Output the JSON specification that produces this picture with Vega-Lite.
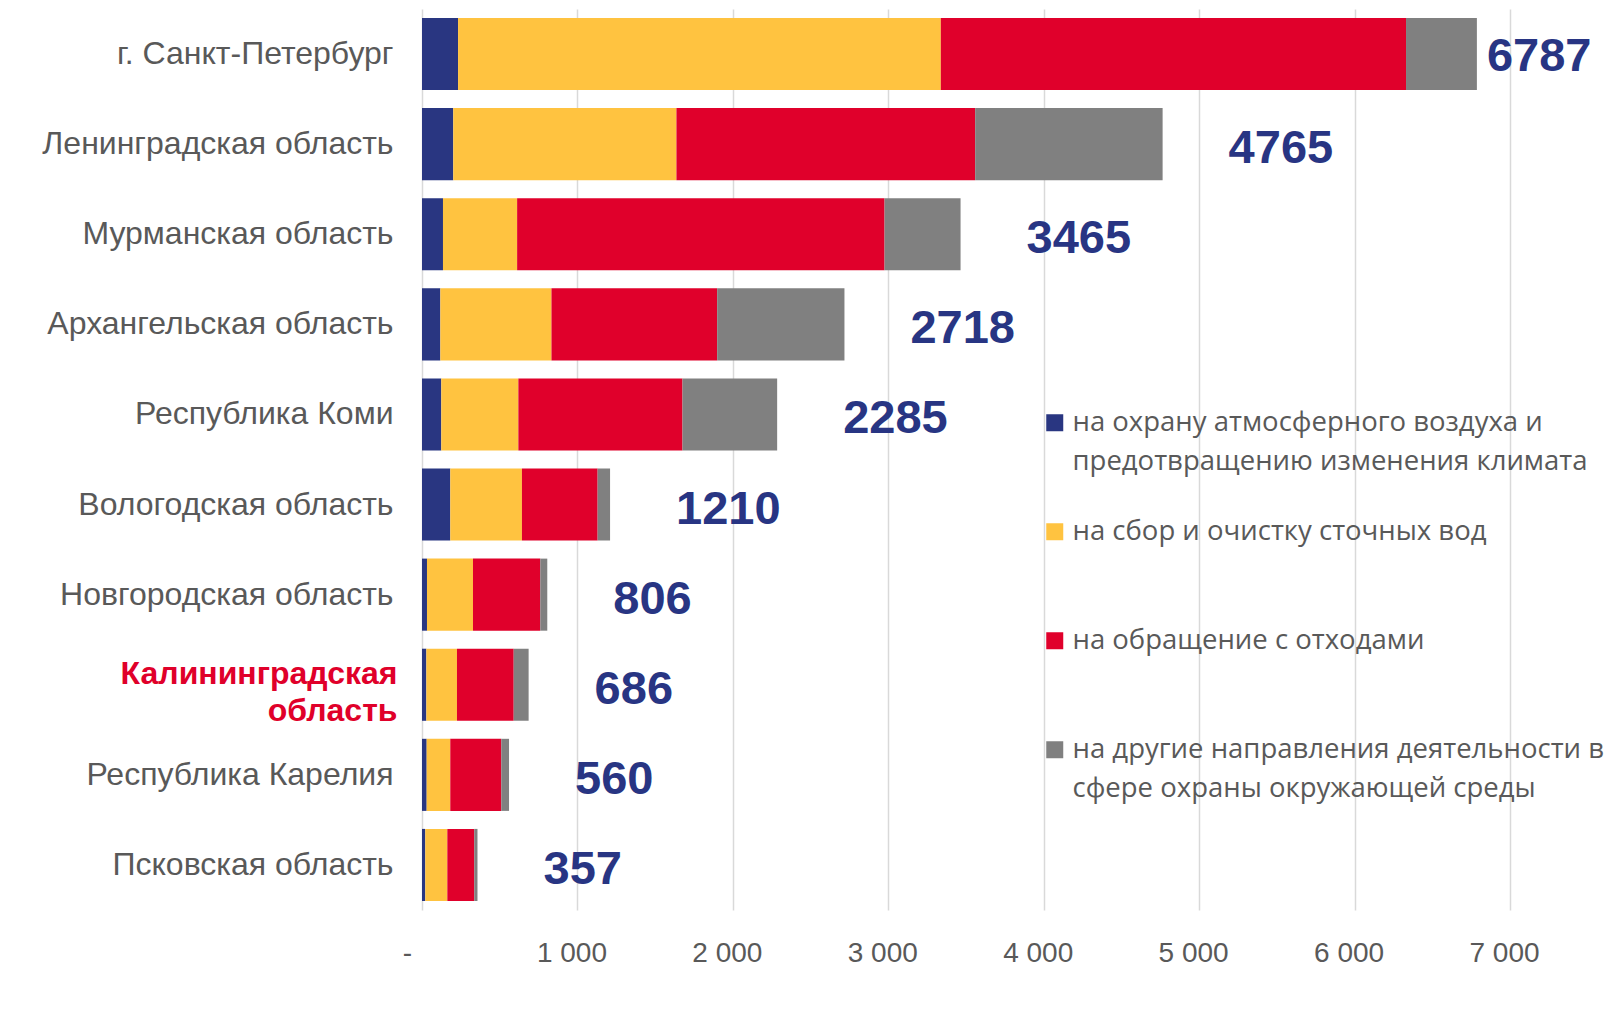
{
  "$schema": "https://vega.github.io/schema/vega-lite/v6.json",
  "autosize": {"type": "none"},
  "padding": {"left": 422, "top": 9, "right": 99, "bottom": 99},
  "width": 1088,
  "height": 901,
  "background": "white",
  "config": {"view": {"stroke": null}, "font": "Liberation Sans", "style": {"guide-label": {"lineHeight": 39}}},
  "datasets": {
    "parts": [
      {"region": "г. Санкт-Петербург", "category": "на охрану атмосферного воздуха и предотвращению изменения климата", "order": 1, "value": 232},
      {"region": "г. Санкт-Петербург", "category": "на сбор и очистку сточных вод", "order": 2, "value": 3106},
      {"region": "г. Санкт-Петербург", "category": "на обращение с отходами", "order": 3, "value": 2993},
      {"region": "г. Санкт-Петербург", "category": "на другие направления деятельности в сфере охраны окружающей среды", "order": 4, "value": 456},
      {"region": "Ленинградская область", "category": "на охрану атмосферного воздуха и предотвращению изменения климата", "order": 1, "value": 201},
      {"region": "Ленинградская область", "category": "на сбор и очистку сточных вод", "order": 2, "value": 1436},
      {"region": "Ленинградская область", "category": "на обращение с отходами", "order": 3, "value": 1922},
      {"region": "Ленинградская область", "category": "на другие направления деятельности в сфере охраны окружающей среды", "order": 4, "value": 1206},
      {"region": "Мурманская область", "category": "на охрану атмосферного воздуха и предотвращению изменения климата", "order": 1, "value": 135},
      {"region": "Мурманская область", "category": "на сбор и очистку сточных вод", "order": 2, "value": 477},
      {"region": "Мурманская область", "category": "на обращение с отходами", "order": 3, "value": 2364},
      {"region": "Мурманская область", "category": "на другие направления деятельности в сфере охраны окружающей среды", "order": 4, "value": 489},
      {"region": "Архангельская область", "category": "на охрану атмосферного воздуха и предотвращению изменения климата", "order": 1, "value": 118},
      {"region": "Архангельская область", "category": "на сбор и очистку сточных вод", "order": 2, "value": 715},
      {"region": "Архангельская область", "category": "на обращение с отходами", "order": 3, "value": 1066},
      {"region": "Архангельская область", "category": "на другие направления деятельности в сфере охраны окружающей среды", "order": 4, "value": 819},
      {"region": "Республика Коми", "category": "на охрану атмосферного воздуха и предотвращению изменения климата", "order": 1, "value": 124},
      {"region": "Республика Коми", "category": "на сбор и очистку сточных вод", "order": 2, "value": 496},
      {"region": "Республика Коми", "category": "на обращение с отходами", "order": 3, "value": 1056},
      {"region": "Республика Коми", "category": "на другие направления деятельности в сфере охраны окружающей среды", "order": 4, "value": 609},
      {"region": "Вологодская область", "category": "на охрану атмосферного воздуха и предотвращению изменения климата", "order": 1, "value": 182},
      {"region": "Вологодская область", "category": "на сбор и очистку сточных вод", "order": 2, "value": 461},
      {"region": "Вологодская область", "category": "на обращение с отходами", "order": 3, "value": 487},
      {"region": "Вологодская область", "category": "на другие направления деятельности в сфере охраны окружающей среды", "order": 4, "value": 80},
      {"region": "Новгородская область", "category": "на охрану атмосферного воздуха и предотвращению изменения климата", "order": 1, "value": 32},
      {"region": "Новгородская область", "category": "на сбор и очистку сточных вод", "order": 2, "value": 296},
      {"region": "Новгородская область", "category": "на обращение с отходами", "order": 3, "value": 433},
      {"region": "Новгородская область", "category": "на другие направления деятельности в сфере охраны окружающей среды", "order": 4, "value": 45},
      {"region": "Калининградская область", "category": "на охрану атмосферного воздуха и предотвращению изменения климата", "order": 1, "value": 28},
      {"region": "Калининградская область", "category": "на сбор и очистку сточных вод", "order": 2, "value": 197},
      {"region": "Калининградская область", "category": "на обращение с отходами", "order": 3, "value": 365},
      {"region": "Калининградская область", "category": "на другие направления деятельности в сфере охраны окружающей среды", "order": 4, "value": 96},
      {"region": "Республика Карелия", "category": "на охрану атмосферного воздуха и предотвращению изменения климата", "order": 1, "value": 30},
      {"region": "Республика Карелия", "category": "на сбор и очистку сточных вод", "order": 2, "value": 152},
      {"region": "Республика Карелия", "category": "на обращение с отходами", "order": 3, "value": 328},
      {"region": "Республика Карелия", "category": "на другие направления деятельности в сфере охраны окружающей среды", "order": 4, "value": 50},
      {"region": "Псковская область", "category": "на охрану атмосферного воздуха и предотвращению изменения климата", "order": 1, "value": 21},
      {"region": "Псковская область", "category": "на сбор и очистку сточных вод", "order": 2, "value": 142},
      {"region": "Псковская область", "category": "на обращение с отходами", "order": 3, "value": 173},
      {"region": "Псковская область", "category": "на другие направления деятельности в сфере охраны окружающей среды", "order": 4, "value": 21}
    ],
    "totals": [
      {"region": "г. Санкт-Петербург", "total": 6787},
      {"region": "Ленинградская область", "total": 4765},
      {"region": "Мурманская область", "total": 3465},
      {"region": "Архангельская область", "total": 2718},
      {"region": "Республика Коми", "total": 2285},
      {"region": "Вологодская область", "total": 1210},
      {"region": "Новгородская область", "total": 806},
      {"region": "Калининградская область", "total": 686},
      {"region": "Республика Карелия", "total": 560},
      {"region": "Псковская область", "total": 357}
    ]
  },
  "layer": [
    {
      "data": {"name": "parts"},
      "mark": {"type": "bar"},
      "encoding": {
        "y": {
          "field": "region", "type": "nominal",
          "sort": ["г. Санкт-Петербург", "Ленинградская область", "Мурманская область", "Архангельская область", "Республика Коми", "Вологодская область", "Новгородская область", "Калининградская область", "Республика Карелия", "Псковская область"],
          "scale": {"paddingInner": 0.2, "paddingOuter": 0.1},
          "axis": {
            "title": null, "domain": false, "ticks": false,
            "labelFont": "Liberation Sans", "labelFontSize": 32,
            "labelColor": {"condition": {"test": "datum.value == 'Калининградская область'", "value": "#E0002A"}, "value": "#595959"},
            "labelFontWeight": {"condition": {"test": "datum.value == 'Калининградская область'", "value": "bold"}, "value": "normal"},
            "labelOffset": {"condition": {"test": "datum.value == 'Калининградская область'", "value": -11}, "value": 0},
            "labelPadding": {"condition": {"test": "datum.value == 'Калининградская область'", "value": 25}, "value": 29},
            "labelLimit": 500, "labelLineHeight": 37,
            "labelExpr": "datum.value == 'Калининградская область' ? ['Калининградская', 'область'] : datum.value"
          }
        },
        "x": {
          "field": "value", "type": "quantitative", "stack": "zero",
          "scale": {"domain": [0, 7000], "nice": false},
          "axis": {
            "title": null, "values": [0, 1000, 2000, 3000, 4000, 5000, 6000, 7000],
            "grid": true, "gridColor": "#D9D9D9", "gridWidth": 1.5,
            "domain": false, "ticks": false,
            "labelFont": "Liberation Sans", "labelFontSize": 28, "labelColor": "#595959",
            "labelPadding": 29, "labelFlush": false, "labelOverlap": false,
            "labelOffset": {"condition": {"test": "datum.value == 0", "value": -15}, "value": -6},
            "labelExpr": "datum.value == 0 ? '-' : replace(format(datum.value, ','), ',', '\u00a0')"
          }
        },
        "color": {
          "field": "category", "type": "nominal",
          "scale": {
            "domain": ["на охрану атмосферного воздуха и предотвращению изменения климата", "на сбор и очистку сточных вод", "на обращение с отходами", "на другие направления деятельности в сфере охраны окружающей среды"],
            "range": ["#293681", "#FFC340", "#E0002B", "#808080"]
          },
          "legend": {
            "orient": "none", "legendX": 619, "legendY": 400, "title": null,
            "symbolType": "square", "symbolSize": 289, "symbolStrokeWidth": 0,
            "labelFont": "Open Sans", "labelFontSize": 27.5, "labelColor": "#595959",
            "labelLimit": 700, "labelOffset": 4, "rowPadding": 41, "labelBaseline": "middle",
            "labelExpr": "datum.label == 'на охрану атмосферного воздуха и предотвращению изменения климата' ? ['на охрану атмосферного воздуха и', 'предотвращению изменения климата'] : datum.label == 'на другие направления деятельности в сфере охраны окружающей среды' ? ['на другие направления деятельности в', 'сфере охраны окружающей среды'] : [datum.label, '']"
          }
        },
        "order": {"field": "order", "type": "quantitative"}
      }
    },
    {
      "data": {"name": "totals"},
      "transform": [{"filter": "datum.region == 'г. Санкт-Петербург'"}],
      "mark": {"type": "text", "align": "left", "baseline": "middle", "dx": 10, "dy": 3, "font": "Liberation Sans", "fontWeight": "bold", "fontSize": 47, "color": "#283583"},
      "encoding": {
        "y": {"field": "region", "type": "nominal", "sort": ["г. Санкт-Петербург", "Ленинградская область", "Мурманская область", "Архангельская область", "Республика Коми", "Вологодская область", "Новгородская область", "Калининградская область", "Республика Карелия", "Псковская область"]},
        "x": {"field": "total", "type": "quantitative"},
        "text": {"field": "total", "type": "quantitative", "format": "d"}
      }
    },
    {
      "data": {"name": "totals"},
      "transform": [{"filter": "datum.region != 'г. Санкт-Петербург'"}],
      "mark": {"type": "text", "align": "left", "baseline": "middle", "dx": 66, "dy": 5, "font": "Liberation Sans", "fontWeight": "bold", "fontSize": 47, "color": "#283583"},
      "encoding": {
        "y": {"field": "region", "type": "nominal", "sort": ["г. Санкт-Петербург", "Ленинградская область", "Мурманская область", "Архангельская область", "Республика Коми", "Вологодская область", "Новгородская область", "Калининградская область", "Республика Карелия", "Псковская область"]},
        "x": {"field": "total", "type": "quantitative"},
        "text": {"field": "total", "type": "quantitative", "format": "d"}
      }
    }
  ]
}
